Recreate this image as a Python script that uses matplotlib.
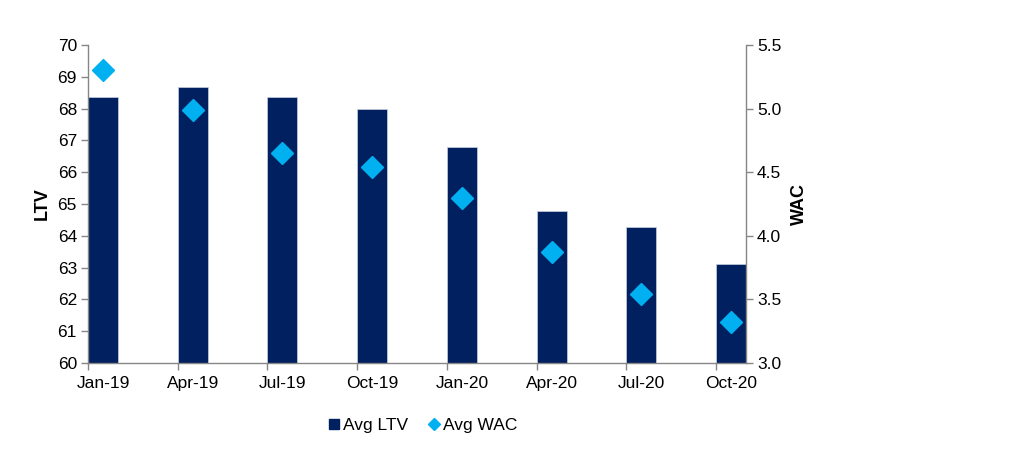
import matplotlib
matplotlib.use("Agg")
import matplotlib.pyplot as plt
from matplotlib.lines import Line2D
import numpy as np

categories = ["Jan-19", "Apr-19", "Jul-19", "Oct-19", "Jan-20", "Apr-20", "Jul-20", "Oct-20"]
avg_ltv = [68.37, 68.67, 68.37, 67.99, 66.79, 64.78, 64.29, 63.12]
avg_wac = [5.30, 4.99, 4.65, 4.54, 4.30, 3.875, 3.54, 3.325]
ltv_ticks = list(range(60, 71))
wac_ticks = [3.0, 3.5, 4.0, 4.5, 5.0, 5.5]

plt.rcParams['font.family'] = ['Liberation Sans', 'DejaVu Sans']
BAR = '#002060'
DIA = '#00B0F0'
SPINE = '#868686'
FS = 12.5

fig = plt.figure(figsize=(10.24, 4.61), dpi=100)
ax = fig.add_axes([88/1024, 1-363/461, (746-88)/1024, (363-45)/461])
ax2 = ax.twinx()

x = np.arange(len(categories))
w = 0.335
ax.bar(x, avg_ltv, width=w, color=BAR, edgecolor='#c8d0e0', linewidth=0.5, zorder=2)
ax2.plot(x, avg_wac, linestyle='none', marker='D', markersize=11, color=DIA,
         markeredgecolor=DIA, zorder=3)

ax.set_xlim(-w/2, len(categories) - 1 + w/2)
ax.set_ylim(60, 70)
ax2.set_ylim(3.0, 5.5)
ax.set_yticks(ltv_ticks)
ax2.set_yticks(wac_ticks)
ax2.set_yticklabels([f"{v:.1f}" for v in wac_ticks])

ax.set_xticks(x)
ax.set_xticklabels(categories)
ax.tick_params(axis='x', length=0, pad=9.5, labelsize=FS, colors='#000000')
ax.set_xticks(x - w/2, minor=True)
ax.tick_params(axis='x', which='minor', length=5, color=SPINE, width=1)

ax.tick_params(axis='y', length=5, color=SPINE, width=1, labelsize=FS, pad=3)
ax2.tick_params(axis='y', length=5, color=SPINE, width=1, labelsize=FS, pad=3)

for a in (ax, ax2):
    a.spines['top'].set_visible(False)
    for s in ('left', 'right', 'bottom'):
        a.spines[s].set_color(SPINE)
        a.spines[s].set_linewidth(1)
ax.spines['right'].set_visible(False)
ax2.spines['left'].set_visible(False)
ax2.spines['bottom'].set_visible(False)

ax.set_ylabel("LTV", fontsize=FS+0.5, fontweight='bold', labelpad=5)
ax2.set_ylabel("WAC", fontsize=FS+0.5, fontweight='bold', labelpad=7)

handles = [Line2D([], [], linestyle='none', marker='s', markersize=6.5, color=BAR),
           Line2D([], [], linestyle='none', marker='D', markersize=6.5, color=DIA)]
fig.legend(handles, ["Avg LTV", "Avg WAC"], loc='center', bbox_to_anchor=(423/1024, 1-425/461),
           ncol=2, frameon=False, fontsize=FS, handlelength=0.6, handletextpad=0.2,
           columnspacing=1.2)

fig.savefig("out.png", dpi=100, facecolor='white')
